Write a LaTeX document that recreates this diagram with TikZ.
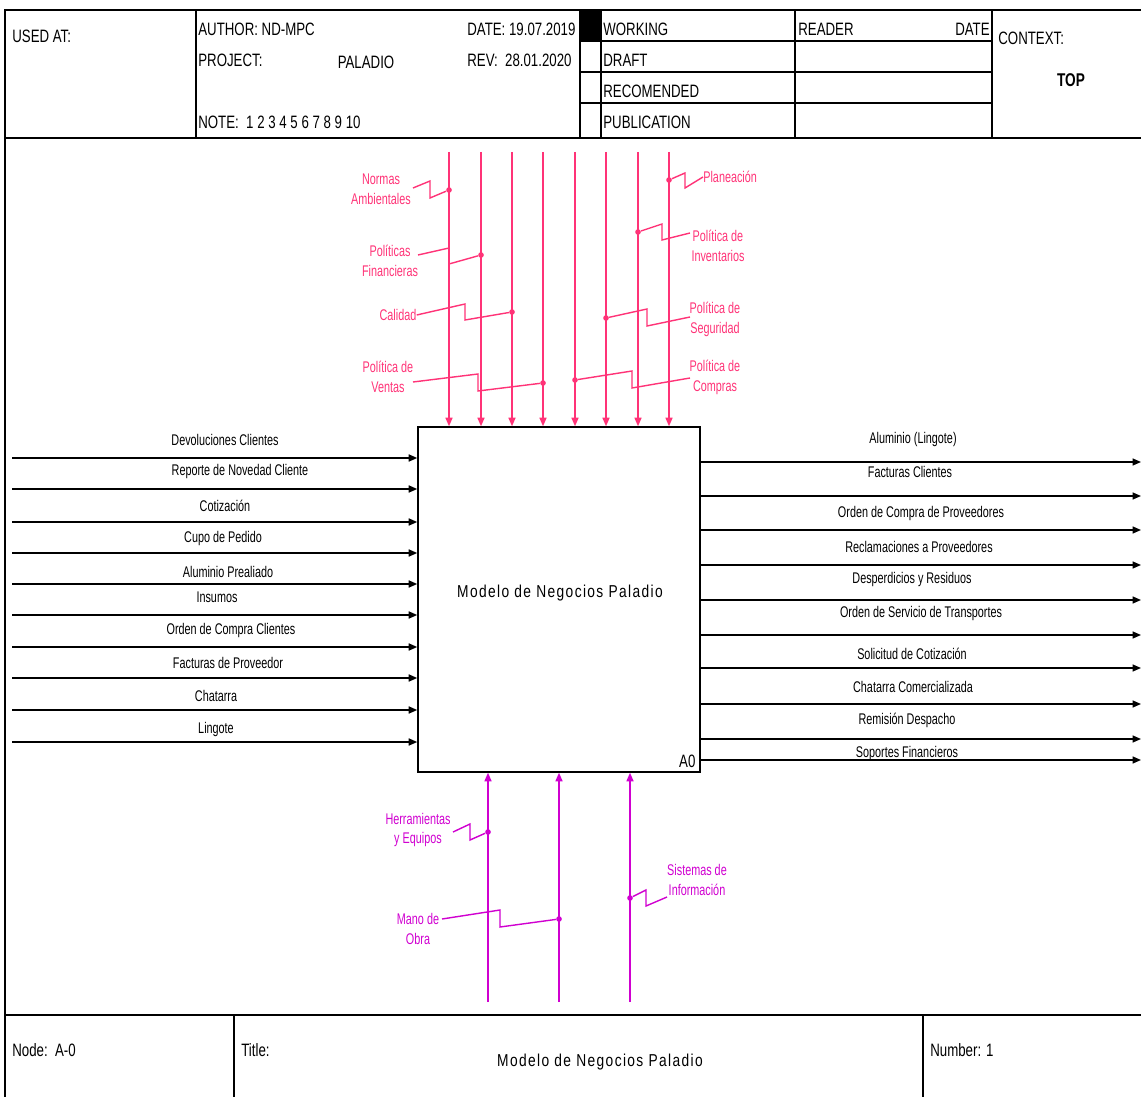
\documentclass[tikz,border=0pt]{standalone}
\usepackage{fontspec}
\setmainfont{Liberation Sans}
\newfontfamily\idefnarrow{Liberation Sans}[FakeStretch=0.7]
\newfontfamily\idefhead{Liberation Sans}[FakeStretch=0.74]
\newfontfamily\idefbox{Liberation Sans}[FakeStretch=0.8,LetterSpace=8]
\usetikzlibrary{arrows.meta,calc}
\definecolor{ctrlpink}{RGB}{255,51,119}
\definecolor{mechpurple}{RGB}{208,0,208}

\begin{document}
\begin{tikzpicture}[x=0.02cm,y=-0.02cm,>={Triangle[length=1.7mm,width=1.4mm]},
  every node/.style={font=\idefnarrow\fontsize{8.8}{11.3}\selectfont, inner sep=0pt},
  frame/.style={line width=1.1pt},
  cell/.style={line width=0.8pt},
  headtxt/.style={anchor=west, font=\idefhead\fontsize{10.2}{12}\selectfont},
  flow/.style={->, line width=0.9pt},
  ctrl/.style={->, line width=0.8pt, ctrlpink},
  mech/.style={->, line width=0.8pt, mechpurple},
  branch/.style={line width=0.8pt},
  junction/.style={circle, fill, minimum size=3.2pt, inner sep=0pt},
  boxtxt/.style={font=\idefbox\fontsize{9.8}{11}\selectfont}]
  \useasboundingbox (0,0) rectangle (1141,1097);

  % form frame
  \draw[frame] (1141,10) -- (5,10) -- (5,1097);
  \draw[frame] (5,138) -- (1141,138);
  \draw[frame] (5,1015) -- (1141,1015);
  \foreach \x in {196,580,601,795,992}
    \draw[cell] (\x,10) -- (\x,138);
  \foreach \y in {41,72,103}
    \draw[cell] (580,\y) -- (992,\y);
  \fill (580,10) rectangle (601,41);
  \foreach \x in {234,923}
    \draw[cell] (\x,1015) -- (\x,1097);

  % header texts
  \node[headtxt] (usedat) at (12,36) {USED AT:};
  \node[headtxt] (author) at (198,29) {AUTHOR: ND-MPC};
  \node[headtxt] (date) at (467,29) {DATE: 19.07.2019};
  \node[headtxt] (project) at (198,60) {PROJECT:};
  \node[headtxt, anchor=center] (paladio) at (366,62) {PALADIO};
  \node[headtxt] (rev) at (467,60) {REV:\ \ 28.01.2020};
  \node[headtxt] (note) at (198,122) {NOTE:\ \ 1\ 2\ 3\ 4\ 5\ 6\ 7\ 8\ 9\ 10};
  \node[headtxt] (working) at (603,29) {WORKING};
  \node[headtxt] (draft) at (603,60) {DRAFT};
  \node[headtxt] (recom) at (603,91) {RECOMENDED};
  \node[headtxt] (public) at (603,122) {PUBLICATION};
  \node[headtxt] (reader) at (798,29) {READER};
  \node[headtxt, anchor=east] (rdate) at (990,29) {DATE};
  \node[headtxt] (context) at (998,38) {CONTEXT:};
  \node[headtxt, anchor=center, font=\idefhead\fontsize{10.5}{12}\bfseries] (top) at (1071,80) {TOP};

  % footer texts
  \node[headtxt] (nodeid) at (12,1050) {Node:\ \ A-0};
  \node[headtxt] (title) at (241,1050) {Title:};
  \node[boxtxt] (titletxt) at (600,1062) {Modelo de Negocios Paladio};
  \node[headtxt] (number) at (930,1050) {Number: 1};

  % activity box
  \node[draw, line width=0.9pt, minimum width=5.64cm, minimum height=6.9cm] (box) at (559,599.5) {};
  \node[boxtxt] (boxtitle) at (560,593) {Modelo de Negocios Paladio};
  \node[anchor=south east, font=\idefhead\fontsize{10.2}{12}\selectfont] (boxid) at ([xshift=-1mm,yshift=1mm]box.south east) {A0};

  % inputs
  \foreach \y/\ly/\lx/\txt [count=\i] in {458/440/225/Devoluciones Clientes,
      489/472/240/Reporte de Novedad Cliente, 522/506/225/Cotización,
      553/539/223/Cupo de Pedido, 584/572/228/Aluminio Prealiado,
      615/597/217/Insumos, 647/630/231/Orden de Compra Clientes,
      678/663/228/Facturas de Proveedor, 710/696/216/Chatarra, 742/729/216/Lingote}
  {
    \coordinate (in\i) at (12,\y);
    \draw[flow] (in\i) -- (in\i -| box.west);
    \node (inlbl\i) at (\lx,\ly) {\txt};
  }

  % outputs
  \foreach \y/\ly/\lx/\txt [count=\i] in {462/440/913/Aluminio (Lingote),
      496/472/910/Facturas Clientes, 530/514/921/Orden de Compra de Proveedores,
      565/547/919/Reclamaciones a Proveedores, 600/580/912/Desperdicios y Residuos,
      635/613/921/Orden de Servicio de Transportes, 668/654/912/Solicitud de Cotización,
      704/687/913/Chatarra Comercializada, 739/720/907/Remisión Despacho,
      760/753/907/Soportes Financieros}
  {
    \coordinate (out\i) at (1141,\y);
    \draw[flow] (out\i -| box.east) -- (out\i);
    \node (outlbl\i) at (\lx,\ly) {\txt};
  }

  % controls
  \foreach \x [count=\i] in {449,481,512,543,575,606,638,669}
  {
    \coordinate (ct\i) at (\x,152);
    \draw[ctrl] (ct\i) -- (ct\i |- box.north);
  }
  \begin{scope}[ctrlpink]
    \node[align=center] (normas) at (381,189) {Normas\\Ambientales};
    \node[junction] (j1) at (449,190) {};
    \draw[branch] (413,188) -- (430,181) -- (430,198) -- (j1);
    \node[align=center] (financ) at (390,261) {Políticas\\Financieras};
    \node[junction] (j2) at (481,255) {};
    \draw[branch] (418,255) -- (449,248) -- (449,264) -- (j2);
    \node (calidad) at (398,315) {Calidad};
    \node[junction] (j3) at (512,312) {};
    \draw[branch] (calidad.east) -- (465,304) -- (465,320) -- (j3);
    \node[align=center] (ventas) at (388,377) {Política de\\Ventas};
    \node[junction] (j4) at (543,383) {};
    \draw[branch] (413,382) -- (478,374) -- (478,391) -- (j4);
    \node[anchor=west] (planea) at (703,177) {Planeación};
    \node[junction] (j8) at (669,180) {};
    \draw[branch] (j8) -- (685,173) -- (685,188) -- (planea.west);
    \node[align=center] (invent) at (718,246) {Política de\\Inventarios};
    \node[junction] (j7) at (638,232) {};
    \draw[branch] (j7) -- (662,224) -- (662,240) -- (690,233);
    \node[align=center] (segur) at (715,319) {Política de\\Seguridad};
    \node[junction] (j6) at (606,318) {};
    \draw[branch] (j6) -- (647,309) -- (647,326) -- (690,317);
    \node[align=center] (compras) at (715,377) {Política de\\Compras};
    \node[junction] (j5) at (575,380) {};
    \draw[branch] (j5) -- (632,371) -- (632,388) -- (690,378);
  \end{scope}

  % mechanisms
  \foreach \x [count=\i] in {488,559,630}
  {
    \coordinate (mc\i) at (\x,1002);
    \draw[mech] (mc\i) -- (mc\i |- box.south);
  }
  \begin{scope}[mechpurple]
    \node[align=center] (herram) at (418,830) {Herramientas\\y Equipos};
    \node[junction] (m1) at (488,832) {};
    \draw[branch] (453,832) -- (470,824) -- (470,840) -- (m1);
    \node[align=center] (mano) at (418,929) {Mano de\\Obra};
    \node[junction] (m2) at (559,919) {};
    \draw[branch] (442,919) -- (500,910) -- (500,927) -- (m2);
    \node[align=center] (sistemas) at (697,880) {Sistemas de\\Información};
    \node[junction] (m3) at (630,898) {};
    \draw[branch] (m3) -- (646,890) -- (646,906) -- (667,897);
  \end{scope}
\end{tikzpicture}
\end{document}
